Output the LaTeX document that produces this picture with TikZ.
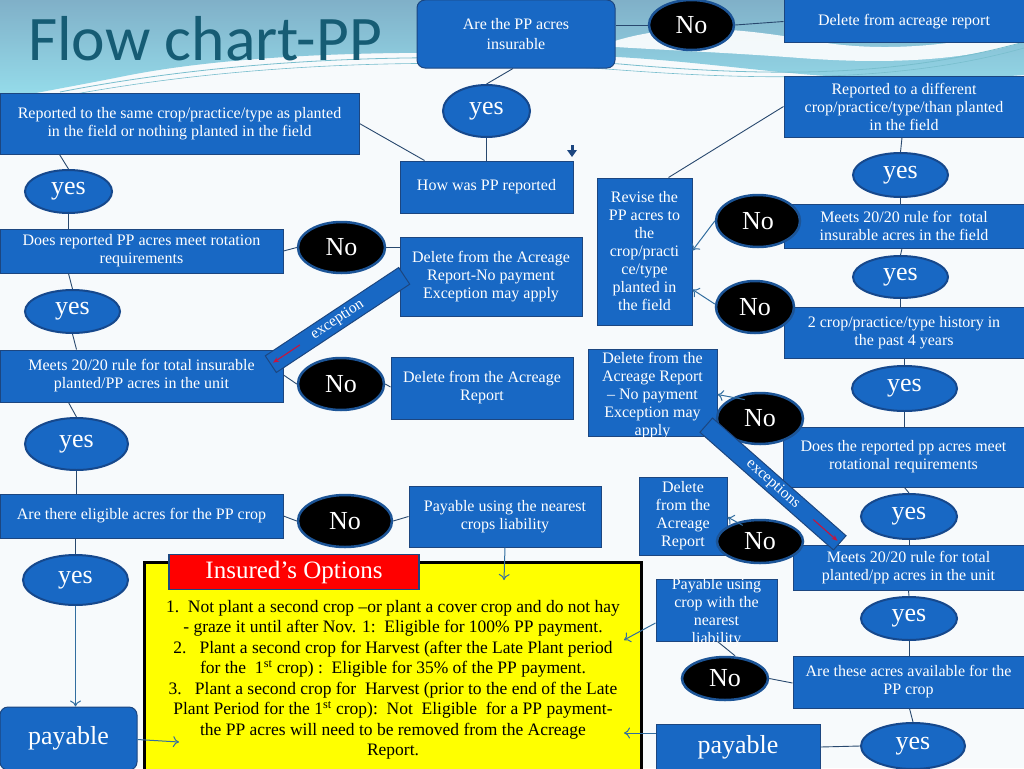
\documentclass[tikz,border=0pt]{standalone}
\usepackage{fontspec}
\setmainfont{Liberation Serif}
\newfontfamily\titlefont{Carlito}
\usetikzlibrary{shapes.geometric,arrows.meta,calc}
\definecolor{boxblue}{RGB}{24,104,196}
\definecolor{boxedge}{RGB}{28,70,128}
\definecolor{yesedge}{RGB}{22,72,140}
\definecolor{noedge}{RGB}{28,84,150}
\definecolor{lineblue}{RGB}{40,72,110}
\definecolor{arrowblue}{RGB}{50,110,160}
\definecolor{titleteal}{RGB}{22,92,116}
\definecolor{tealtop}{RGB}{128,176,200}
\definecolor{tealbot}{RGB}{150,222,236}
\definecolor{bgwhite}{RGB}{247,250,252}
\definecolor{redlab}{RGB}{255,0,0}
\definecolor{redarrow}{RGB}{200,20,60}
\definecolor{swline}{RGB}{120,190,205}
\definecolor{ybox}{RGB}{255,255,0}
\tikzset{
  box/.style={rectangle, fill=boxblue, draw=boxedge, line width=1pt, text=white,
    font=\fontsize{16}{18}\selectfont, align=center, inner sep=1pt},
  boxtext/.style={text=white, font=\fontsize{16}{18}\selectfont, align=center, inner sep=0pt},
  yesnode/.style={ellipse, fill=boxblue, draw=yesedge, line width=2pt, text=white,
    font=\fontsize{26}{28}\selectfont, inner sep=0pt},
  nonode/.style={ellipse, fill=black, draw=noedge, line width=2.5pt, text=white,
    font=\fontsize{26}{28}\selectfont, inner sep=0pt},
  conn/.style={draw=lineblue, line width=0.9pt},
  arr/.style={draw=arrowblue, line width=1pt, -{To[length=6pt,width=11pt]}},
  banner/.style={rectangle, fill=boxblue, draw=boxedge, line width=1pt, text=white,
    font=\fontsize{15.5}{16}\selectfont, inner sep=0pt},
  redarr/.style={draw=redarrow, line width=1.1pt, -{Stealth[length=6pt,width=5pt]}}
}
\begin{document}
\begin{tikzpicture}[x=1pt,y=-1pt]
\useasboundingbox (0,0) rectangle (1024,768);
% background
\fill[bgwhite] (0,0) rectangle (1024,768);
\shade[top color=tealtop, bottom color=tealbot]
  (0,0) -- (1024,0) -- (1024,75) .. controls (930,82) and (860,80) .. (780,72)
  .. controls (700,64) and (640,56) .. (560,55)
  .. controls (420,50) and (250,52) .. (130,75) .. controls (80,85) and (40,92) .. (0,100) -- cycle;
\fill[white, opacity=0.9] (600,46) .. controls (670,20) and (740,28) .. (820,42)
  .. controls (900,55) and (980,40) .. (1024,28) -- (1024,42)
  .. controls (960,62) and (880,64) .. (800,58) .. controls (720,52) and (660,50) .. (600,46) -- cycle;
\draw[swline, line width=0.8pt] (60,92) .. controls (250,55) and (450,52) .. (620,64) .. controls (780,78) and (900,76) .. (1024,42);
\draw[swline, line width=0.6pt] (70,95) .. controls (260,60) and (460,58) .. (620,70) .. controls (780,82) and (910,80) .. (1024,48);
% title
\node[font=\titlefont\fontsize{63.5}{64}\selectfont, text=titleteal, anchor=base west, inner sep=0pt] (title) at (28,60) {Flow chart-PP};

% left column boxes
\node[box, rounded corners=8pt, minimum width=198, minimum height=68, font=\fontsize{16}{20}\selectfont] (are) at (516,34) {Are the PP acres\\insurable};
\node[box, minimum width=240, minimum height=43] (delacr) at (904,21.5) {Delete from acreage report};
\node[box, minimum width=173, minimum height=52] (how) at (486.5,187) {How was PP reported};
\node[box, minimum width=359, minimum height=61] (same) at (179.5,123.5) {Reported to the same crop/practice/type as planted\\in the field or nothing planted in the field};
\node[box, minimum width=283, minimum height=44] (rot) at (141.5,251) {Does reported PP acres meet rotation\\requirements};
\node[box, minimum width=182, minimum height=79] (delnp) at (491,277) {Delete from the Acreage\\Report-No payment\\Exception may apply};
\node[box, minimum width=283, minimum height=52] (meets) at (141.5,376) {Meets 20/20 rule for total insurable\\planted/PP acres in the unit};
\node[box, minimum width=182, minimum height=62] (del2) at (482,388) {Delete from the Acreage\\Report};
\node[box, minimum width=283, minimum height=44] (elig) at (141.5,516) {Are there eligible acres for the PP crop};
\node[box, minimum width=192, minimum height=61] (paynear) at (505,516.5) {Payable using the nearest\\crops liability};
\node[box, rounded corners=8pt, minimum width=137, minimum height=63, font=\fontsize{26}{28}\selectfont] (payL) at (68.5,738.5) {payable};

% right column boxes
\node[box, minimum width=240, minimum height=61] (diff) at (904,106.5) {Reported to a different\\crop/practice/type/than planted\\in the field};
\node[box, minimum width=240, minimum height=44] (meetsfield) at (904,226) {Meets 20/20 rule for\ \ total\\insurable acres in the field};
\node[box, minimum width=95, minimum height=147] (revise) at (644.5,251.5) {Revise the\\PP acres to\\the\\crop/practi\\ce/type\\planted in\\the field};
\node[box, minimum width=240, minimum height=51] (twocrop) at (904,332.5) {2 crop/practice/type history in\\the past 4 years};
\node[box, minimum width=241, minimum height=60] (doesrot) at (903.5,457) {Does the reported pp acres meet\\rotational requirements};
\node[box, minimum width=129, minimum height=87] (delnp2) at (652.5,392.5) {};
\node[boxtext] (delnp2t) at (652.5,396) {Delete from the\\Acreage Report\\– No payment\\Exception may\\apply};
\node[box, minimum width=88, minimum height=78] (delsmall) at (683,516) {Delete\\from the\\Acreage\\Report};
\node[box, minimum width=231, minimum height=45] (meetsunit) at (908.5,567.5) {Meets 20/20 rule for total\\planted/pp acres in the unit};
\node[box, minimum width=121, minimum height=62] (paycrop) at (716.5,610) {};
\node[boxtext] (paycropt) at (716.5,612.5) {Payable using\\crop with the\\nearest\\liability};
\node[box, minimum width=231, minimum height=52] (acres) at (908.5,682) {Are these acres available for the\\PP crop};
\node[box, minimum width=164, minimum height=46, font=\fontsize{26}{28}\selectfont] (payR) at (738,747) {payable};

% yellow options box
\node[rectangle, fill=ybox, draw=black, line width=3pt, minimum width=497, minimum height=208] (opts) at (392.5,666) {};
\node[rectangle, fill=redlab, draw=boxedge, line width=1.5pt, minimum width=250, minimum height=35, text=white, font=\fontsize{25}{27}\selectfont, inner sep=0pt] (ins) at (294,572) {Insured’s Options};
\node[align=center, font=\fontsize{17.5}{20.5}\selectfont, inner sep=0pt] (optstext) at (393,680) {1.\ \ Not plant a second crop –or plant a cover crop and do not hay\\- graze it until after Nov. 1:\ \ Eligible for 100\% PP payment.\\2.\ \ \ Plant a second crop for Harvest (after the Late Plant period\\for the\ \ 1\textsuperscript{st} crop) :\ \ Eligible for 35\% of the PP payment.\\3.\ \ \ Plant a second crop for\ \ Harvest (prior to the end of the Late\\Plant Period for the 1\textsuperscript{st} crop):\ \ Not\ \ Eligible\ \ for a PP payment-\\the PP acres will need to be removed from the Acreage\\Report.};
\coordinate (inL) at (179,742);
\coordinate (inTop) at (504,580);
\coordinate (inR1) at (624,640);
\coordinate (inR2) at (624,733);

% ellipses
\node[nonode, minimum width=85, minimum height=50] (no1) at (691.5,25) {No};
\node[yesnode, minimum width=87, minimum height=52] (yes1) at (486.5,111) {yes};
\node[yesnode, minimum width=87, minimum height=43] (yesL1) at (68.5,191.5) {yes};
\node[nonode, minimum width=87, minimum height=51] (noL1) at (341.5,247.5) {No};
\node[yesnode, minimum width=95, minimum height=43] (yesL2) at (72.5,311.5) {yes};
\node[nonode, minimum width=86, minimum height=52] (noL2) at (341,384) {No};
\node[yesnode, minimum width=103, minimum height=52] (yesL3) at (76.5,444) {yes};
\node[nonode, minimum width=94, minimum height=52] (noL3) at (345,521) {No};
\node[yesnode, minimum width=105, minimum height=50] (yesL4) at (75.5,580) {yes};
\node[yesnode, minimum width=95, minimum height=44] (yesR1) at (900.5,175) {yes};
\node[nonode, minimum width=84, minimum height=52] (noR1) at (758,221) {No};
\node[yesnode, minimum width=95, minimum height=42] (yesR2) at (900.5,277) {yes};
\node[nonode, minimum width=78, minimum height=52] (noR2) at (755,307) {No};
\node[yesnode, minimum width=105, minimum height=45] (yesR3) at (904.5,388.5) {yes};
\node[nonode, minimum width=86, minimum height=51] (noR3) at (760,418.5) {No};
\node[yesnode, minimum width=96, minimum height=45] (yesR4) at (909,516.5) {yes};
\node[nonode, minimum width=86, minimum height=43] (noR4) at (760,541.5) {No};
\node[yesnode, minimum width=96, minimum height=43] (yesR5) at (909,618.5) {yes};
\node[nonode, minimum width=86, minimum height=43] (noR5) at (725,678.5) {No};
\node[yesnode, minimum width=104, minimum height=46] (yesR6) at (913,746) {yes};

% banners
\node[banner, rotate=33.5, minimum width=160, minimum height=20] (exc1) at (337.5,320) {exception};
\node[banner, rotate=-41.4, minimum width=178, minimum height=19] (exc2) at (773,484) {exceptions};
\draw[redarr] ($(exc1.west)!0.22!(exc1.east)$) -- ($(exc1.west)!0.02!(exc1.east)$);
\draw[redarr] ($(exc2.east)!0.2!(exc2.west)$) -- ($(exc2.east)!0.02!(exc2.west)$);

% stray small arrow
\fill[boxedge] (570.5,145) rectangle (573.5,150);
\fill[boxedge] (567,150) -- (577,150) -- (572,157) -- cycle;

% connectors left
\draw[conn] ([yshift=9pt]are.east) -- (no1.west);
\draw[conn] (no1.east) -- (delacr.west);
\draw[conn] ([xshift=-3pt]are.south) -- (yes1.north);
\draw[conn] (yes1.south) -- (how.north);
\draw[conn] (same.east) -- ([xshift=25pt]how.north west);
\draw[conn] ([xshift=60pt]same.south west) -- (yesL1.north);
\draw[conn] (yesL1.south) -- (yesL1.south |- rot.north);
\draw[conn] (rot.east) -- (noL1.west);
\draw[conn] (noL1.east) -- (noL1.east -| delnp.west);
\draw[conn] ([xshift=69pt]rot.south west) -- (yesL2.north);
\draw[conn] (yesL2.south) -- ([xshift=77pt]meets.north west);
\draw[conn] ([yshift=1pt]meets.east) -- (noL2.west);
\draw[conn] (noL2.east) -- ([yshift=1pt]del2.west);
\draw[conn] ([xshift=69pt]meets.south west) -- (yesL3.north);
\draw[conn] (yesL3.south) -- (yesL3.south |- elig.north);
\draw[conn] (elig.east) -- (noL3.west);
\draw[conn] (noL3.east) -- (paynear.west);
\draw[conn] (yesL4.north |- elig.south) -- (yesL4.north);
\draw[arr] (paynear.south) -- (inTop);
\draw[arr] (yesL4.south) -- (yesL4.south |- payL.north);
\draw[arr] ([yshift=-1pt]payL.east) -- (inL);
% connectors right
\draw[conn] (diff.west) -- ([xshift=72pt]revise.north west);
\draw[conn] ([xshift=-2pt]diff.south) -- (yesR1.north);
\draw[conn] (yesR1.south) -- (yesR1.south |- meetsfield.north);
\draw[conn] ([xshift=-2pt]meetsfield.south) -- (yesR2.north);
\draw[conn] (yesR2.south) -- (yesR2.south |- twocrop.north);
\draw[conn] (yesR3.north |- twocrop.south) -- (yesR3.north);
\draw[conn] (yesR3.south) -- (yesR3.south |- doesrot.north);
\draw[conn] ([xshift=1pt]doesrot.south) -- (yesR4.north);
\draw[conn] (yesR4.south) -- (yesR4.south |- meetsunit.north);
\draw[conn] (meetsunit.south) -- (yesR5.north);
\draw[conn] (yesR5.south) -- (yesR5.south |- acres.north);
\draw[conn] ([xshift=1pt]acres.south) -- (yesR6.north);
\draw[conn] (yesR6.west) -- (payR.east);
\draw[conn] ([yshift=-1pt]acres.west) -- (noR5.east);
\draw[conn] ([xshift=10pt]noR5.north) -- ([xshift=1pt]paycrop.south);
\draw[arr] (noR1.west) -- ([yshift=1pt]revise.east);
\draw[arr] ([yshift=3pt]noR2.west) -- ([yshift=-38pt]revise.east);
\draw[arr] ([xshift=16pt]noR3.north west) -- ([yshift=-2pt]delnp2.east);
\draw[arr] ([xshift=14pt]noR4.north west) -- ([yshift=-1pt]delsmall.east);
\draw[arr] ([yshift=-13pt]paycrop.west) -- (inR1);
\draw[arr] ([yshift=14pt]payR.west) -- (inR2);
\end{tikzpicture}
\end{document}
